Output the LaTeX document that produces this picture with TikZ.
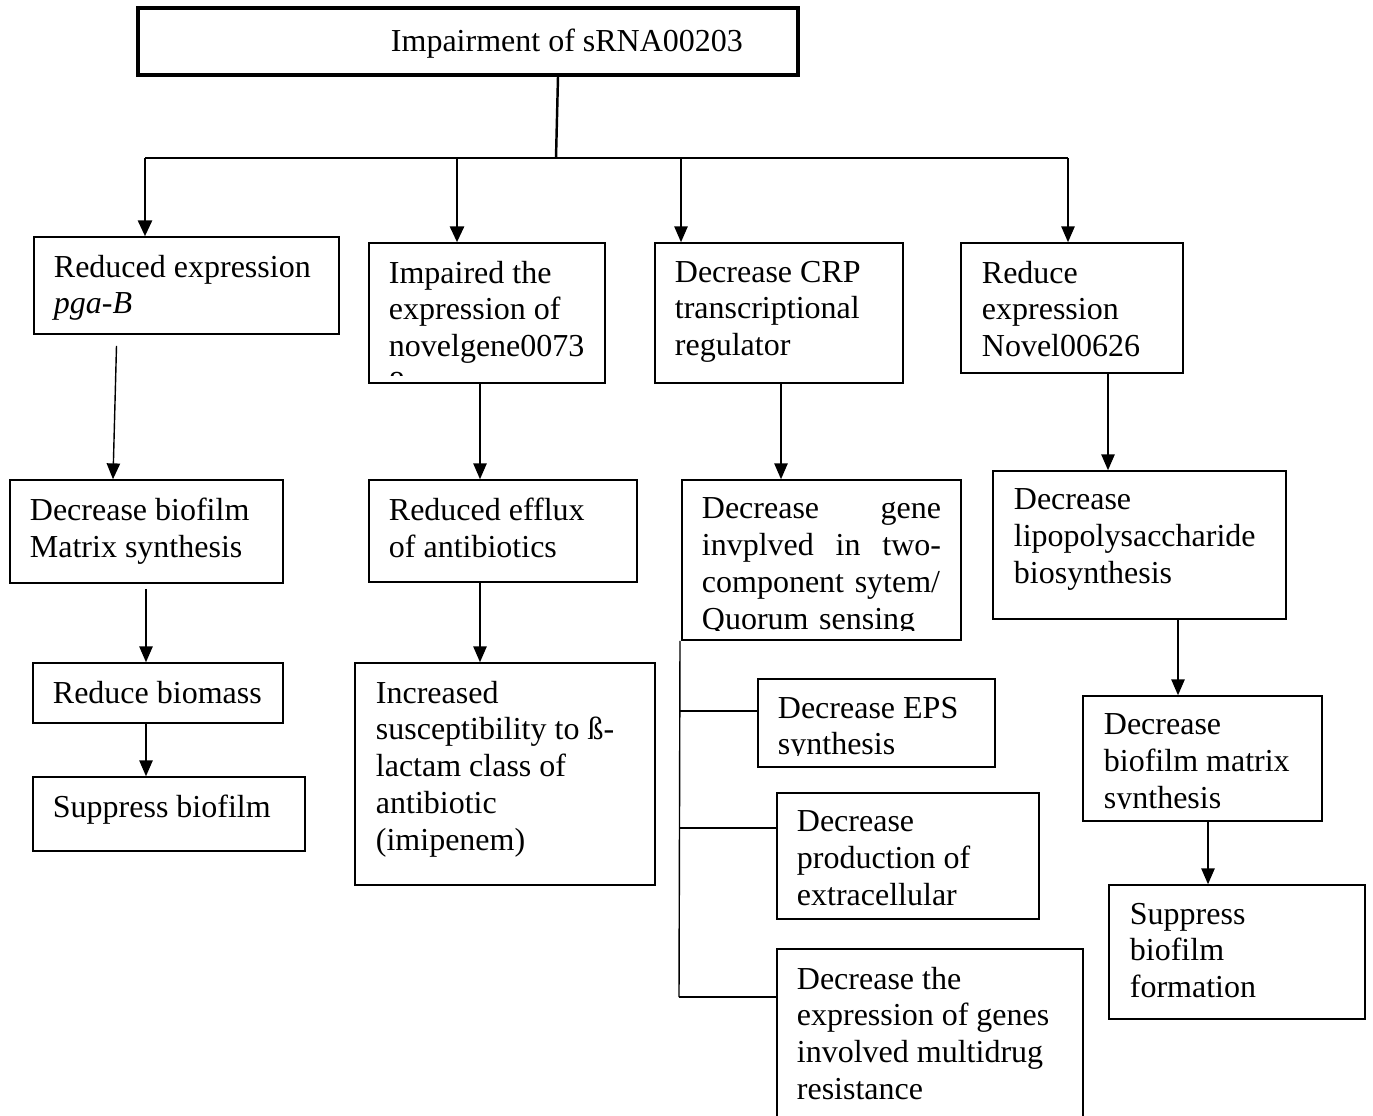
\documentclass[tikz,border=0pt]{standalone}
\usepackage{fontspec}
\setmainfont{Liberation Serif}
\usetikzlibrary{arrows.meta,fit}

\begin{document}
\begin{tikzpicture}[
      x=0.01cm, y=-0.01cm,
      box/.style={draw, line width=0.45pt, inner sep=0pt, rectangle},
      topbox/.style={box, line width=1pt},
      txt/.style={anchor=north west, align=left, inner sep=0pt,
                  font=\fontsize{9.1}{10.45}\selectfont},
      thickline/.style={line width=0.7pt},
      thinline/.style={line width=0.4pt},
      arrow/.style={thinline, -{Triangle[length=4.5pt,width=3.8pt]}},
      thickarrow/.style={thickline, -{Triangle[length=4.5pt,width=4pt]}},
    ]
  \useasboundingbox (0,0) rectangle (1373,1115);

  % boxes
  \node[topbox, fit={(138,8) (798,75)}] (title) {};
  \node[txt, anchor=west] (titletxt) at ([shift={(254,2)}]title.west) {Impairment of sRNA00203};

  \node[box, fit={(34,237) (339,334)}] (pga) {};
  \node[txt] (pgatxt) at ([shift={(20,18)}]pga.north west)
    {Reduced expression\\\textit{pga-B}};

  \node[box, fit={(369,243) (605,383)}] (novel) {};
  \begin{scope}
    \clip (novel.north west) rectangle ([yshift=0.08cm]novel.south east);
    \node[txt] (noveltxt) at ([shift={(20,18)}]novel.north west)
      {Impaired the\\expression of\\novelgene0073\\8};
  \end{scope}

  \node[box, fit={(655,243) (903,383)}] (crp) {};
  \node[txt] (crptxt) at ([shift={(20,18)}]crp.north west)
    {Decrease CRP\\transcriptional\\regulator};

  \node[box, fit={(961,243) (1183,373)}] (reduce) {};
  \node[txt] (reducetxt) at ([shift={(21,18)}]reduce.north west)
    {Reduce\\expression\\Novel00626};

  \node[box, fit={(10,480) (283,583)}] (matrix) {};
  \node[txt] (matrixtxt) at ([shift={(20,18)}]matrix.north west)
    {Decrease biofilm\\Matrix synthesis};

  \node[box, fit={(369,480) (637,582)}] (efflux) {};
  \node[txt] (effluxtxt) at ([shift={(20,18)}]efflux.north west)
    {Reduced efflux\\of antibiotics};

  \node[box, fit={(682,480) (961,640)}] (qs) {};
  \begin{scope}
    \clip (qs.north west) rectangle ([yshift=0.1cm]qs.south east);
    \node[txt, text width=2.39cm] (qstxt) at ([shift={(20,18)}]qs.north west)
      {Decrease\hfill gene\\invplved\hfill in\hfill two-\\component sytem/\\Quorum sensing};
  \end{scope}

  \node[box, fit={(993,471) (1286,619)}] (lps) {};
  \node[txt] (lpstxt) at ([shift={(21,18)}]lps.north west)
    {Decrease\\lipopolysaccharide\\biosynthesis};

  \node[box, fit={(33,663) (283,723)}] (biomass) {};
  \node[txt] (biomasstxt) at ([shift={(20,18)}]biomass.north west) {Reduce biomass};

  \node[box, fit={(33,777) (305,851)}] (suppress) {};
  \node[txt] (suppresstxt) at ([shift={(20,18)}]suppress.north west) {Suppress biofilm};

  \node[box, fit={(355,663) (655,885)}] (suscept) {};
  \node[txt] (suscepttxt) at ([shift={(21,18)}]suscept.north west)
    {Increased\\susceptibility to ß-\\lactam class of\\antibiotic\\(imipenem)};

  \node[box, fit={(758,679) (995,767)}] (eps) {};
  \begin{scope}
    \clip (eps.north west) rectangle ([yshift=0.12cm]eps.south east);
    \node[txt] (epstxt) at ([shift={(20,18)}]eps.north west)
      {Decrease EPS\\synthesis};
  \end{scope}

  \node[box, fit={(777,793) (1039,919)}] (prod) {};
  \node[txt] (prodtxt) at ([shift={(20,18)}]prod.north west)
    {Decrease\\production of\\extracellular};

  \node[box, fit={(777,949) (1083,1135)}] (mdr) {};
  \node[txt] (mdrtxt) at ([shift={(20,18)}]mdr.north west)
    {Decrease the\\expression of genes\\involved multidrug\\resistance};

  \node[box, fit={(1083,696) (1322,821)}] (biomat) {};
  \begin{scope}
    \clip (biomat.north west) rectangle ([yshift=0.13cm]biomat.south east);
    \node[txt] (biomattxt) at ([shift={(21,18)}]biomat.north west)
      {Decrease\\biofilm matrix\\synthesis};
  \end{scope}

  \node[box, fit={(1109,885) (1365,1019)}] (formation) {};
  \node[txt] (formationtxt) at ([shift={(21,18)}]formation.north west)
    {Suppress\\biofilm\\formation};

  % fork under the top box
  \coordinate (fork) at (556,158);
  \coordinate (f1) at (145,158);
  \coordinate (f2) at (457,158);
  \coordinate (f3) at (681,158);
  \coordinate (f4) at (1068,158);
  \draw[thickline] (title.south -| 558,0) -- (fork);
  \draw[thickline] (f1) -- (f4);
  \draw[thickarrow] (f1) -- (f1 |- pga.north);
  \draw[thickarrow] (f2) -- (f2 |- novel.north);
  \draw[arrow] (f3) -- (f3 |- crp.north);
  \draw[arrow] (f4) -- (f4 |- reduce.north);

  % columns
  \coordinate (colA) at (146,0);
  \coordinate (colB) at (480,0);
  \coordinate (colC) at (781,0);
  \coordinate (colD) at (1108,0);
  \coordinate (colE) at (1178,0);
  \coordinate (colF) at (1208,0);

  \draw[arrow] ([shift={(-70,11)}]pga.south) -- ([xshift=-0.335cm]matrix.north);
  \draw[arrow] ([yshift=-0.05cm]colA |- matrix.south) -- (colA |- biomass.north);
  \draw[arrow] (colA |- biomass.south) -- (colA |- suppress.north);

  \draw[arrow] (colB |- novel.south) -- (colB |- efflux.north);
  \draw[arrow] (colB |- efflux.south) -- (colB |- suscept.north);

  \draw[arrow] (colC |- crp.south) -- (colC |- qs.north);

  \draw[arrow] (colD |- reduce.south) -- (colD |- lps.north);
  \draw[arrow] (colE |- lps.south) -- (colE |- biomat.north);
  \draw[arrow] (colF |- biomat.south) -- (colF |- formation.north);

  % trunk with side branches
  \coordinate (b1) at (680,711);
  \coordinate (b2) at (680,828);
  \coordinate (b3) at (679,997);
  \draw[thinline] (b1 |- qs.south) -- (b3);
  \draw[thinline] (b1) -- (b1 -| eps.west);
  \draw[thinline] (b2) -- (b2 -| prod.west);
  \draw[thinline] (b3) -- (b3 -| mdr.west);

\end{tikzpicture}
\end{document}
